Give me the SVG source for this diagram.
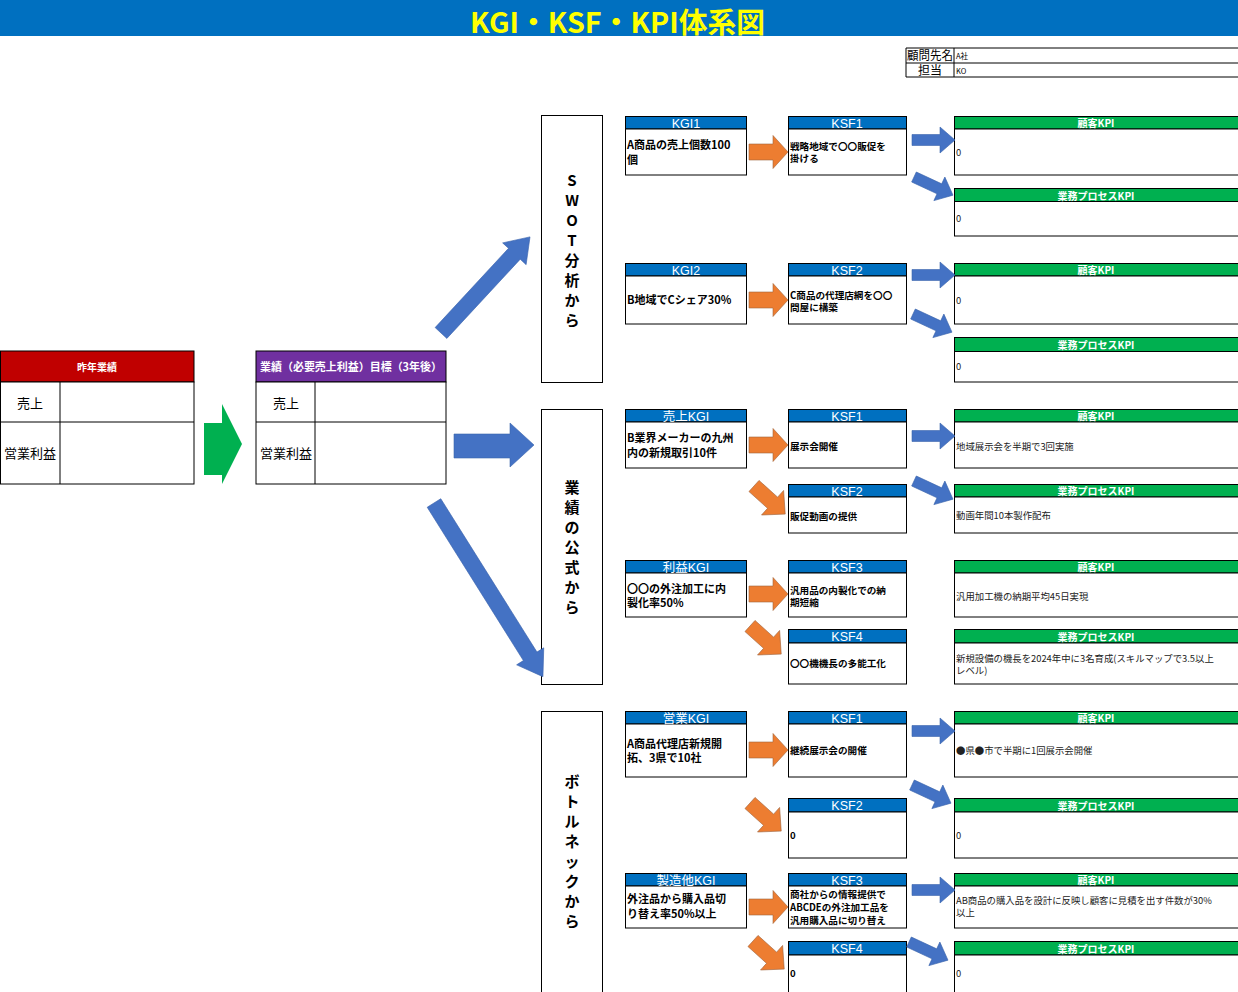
<svg xmlns="http://www.w3.org/2000/svg" width="1238" height="992" viewBox="0 0 1238 992">
<style>
.jp{font-family:"Noto Sans CJK JP","Liberation Sans",sans-serif}
.bd{stroke:#000;stroke-width:1;fill:#fff}
.hb{fill:#0070C0;stroke:#000;stroke-width:1}
.hg{fill:#00B050;stroke:#000;stroke-width:1}
.ht{font-family:"Liberation Sans","Noto Sans CJK JP",sans-serif;font-size:12.5px;fill:#fff;text-anchor:middle}
.kt{font-family:"Noto Sans CJK JP",sans-serif;font-size:10px;font-weight:700;fill:#fff;text-anchor:middle}
.gt{font-family:"Noto Sans CJK JP",sans-serif;font-size:11px;font-weight:700;fill:#000}
.st{font-family:"Noto Sans CJK JP",sans-serif;font-size:9.6px;font-weight:700;fill:#000}
.pt{font-family:"Noto Sans CJK JP",sans-serif;font-size:9.4px;fill:#222}
.vt{font-family:"Noto Sans CJK JP",sans-serif;font-size:15px;font-weight:700;fill:#000;text-anchor:middle}
.or{fill:#ED7D31;stroke:#A0643C;stroke-width:0.6}
.bl{fill:#4472C4;stroke:#3B64AD;stroke-width:0.6}
.ln{stroke:#000;stroke-width:1;fill:none}
</style>
<defs>
<path id="oa" d="M0,-8 H24 V-16.5 L39,0 L24,16.5 V8 H0 Z"/>
<path id="od" d="M0,-7.5 H25 V-16.5 L42,0 L25,16.5 V7.5 H0 Z"/>
<path id="ba" d="M0,-5.5 H28 V-13 L43,0 L28,13 V5.5 H0 Z"/>
</defs>
<rect width="1238" height="992" fill="#fff"/>
<g id="title">
<rect x="0" y="0" width="1238" height="36" fill="#0070C0"/>
<text x="470" y="33" font-family="Noto Sans CJK JP,sans-serif" font-size="28" font-weight="700" fill="#FFFF00" textLength="295" lengthAdjust="spacingAndGlyphs">KGI・KSF・KPI体系図</text>
</g>
<g id="info">
<path class="ln" d="M906,48 H1238 M906,63 H1238 M906,77 H1238 M906,48 V77 M954,48 V77"/>
<text x="930" y="60" class="jp" font-size="12" text-anchor="middle" textLength="46" lengthAdjust="spacingAndGlyphs">顧問先名</text>
<text x="930" y="75" class="jp" font-size="12" text-anchor="middle">担当</text>
<text x="956" y="59" class="jp" font-size="7.5">A社</text>
<text x="956" y="74" class="jp" font-size="7.5">KO</text>
</g>
<g id="last-year">
<rect x="0.5" y="351" width="193.5" height="31" fill="#C00000" stroke="#000"/>
<rect x="0.5" y="382" width="193.5" height="102" class="bd"/>
<path class="ln" d="M0.5,422 H194 M60,382 V484"/>
<text x="97" y="371" class="kt" font-size="11">昨年業績</text>
<text x="30" y="408" class="jp" font-size="13" text-anchor="middle">売上</text>
<text x="30" y="458" class="jp" font-size="13" text-anchor="middle">営業利益</text>
</g>
<g id="target">
<rect x="256" y="351" width="190" height="31" fill="#7030A0" stroke="#000"/>
<rect x="256" y="382" width="190" height="102" class="bd"/>
<path class="ln" d="M256,422 H446 M315,382 V484"/>
<text x="260" y="371" font-family="Noto Sans CJK JP,sans-serif" font-size="11" font-weight="700" fill="#fff" textLength="182" lengthAdjust="spacingAndGlyphs">業績（必要売上利益）目標（3年後）</text>
<text x="286" y="408" class="jp" font-size="13" text-anchor="middle">売上</text>
<text x="286" y="458" class="jp" font-size="13" text-anchor="middle">営業利益</text>
</g>
<g id="cat-swot">
<rect x="541.5" y="115.5" width="61" height="267" class="bd"/>
<text class="vt"><tspan x="572" y="186">S</tspan><tspan x="572" y="206">W</tspan><tspan x="572" y="226">O</tspan><tspan x="572" y="246">T</tspan><tspan x="572" y="266">分</tspan><tspan x="572" y="286">析</tspan><tspan x="572" y="306">か</tspan><tspan x="572" y="326">ら</tspan></text>
</g>
<g id="cat-formula">
<rect x="541.5" y="409.5" width="61" height="275" class="bd"/>
<text class="vt"><tspan x="572" y="493">業</tspan><tspan x="572" y="513">績</tspan><tspan x="572" y="533">の</tspan><tspan x="572" y="553">公</tspan><tspan x="572" y="573">式</tspan><tspan x="572" y="593">か</tspan><tspan x="572" y="613">ら</tspan></text>
</g>
<g id="cat-bottleneck">
<rect x="541.5" y="711.5" width="61" height="290" class="bd"/>
<text class="vt"><tspan x="572" y="787">ボ</tspan><tspan x="572" y="807">ト</tspan><tspan x="572" y="827">ル</tspan><tspan x="572" y="847">ネ</tspan><tspan x="572" y="867">ッ</tspan><tspan x="572" y="887">ク</tspan><tspan x="572" y="907">か</tspan><tspan x="572" y="927">ら</tspan></text>
</g>

<!-- Section 1 -->
<g id="kgi1"><rect x="625.5" y="116.5" width="121" height="12.5" class="hb"/><rect x="625.5" y="129" width="121" height="46" class="bd"/><text x="686" y="127.5" class="ht">KGI1</text><text class="gt"><tspan x="627" y="149">A商品の売上個数100</tspan><tspan x="627" y="164">個</tspan></text></g>
<g id="ksf1-a"><rect x="788.5" y="116.5" width="118" height="12.5" class="hb"/><rect x="788.5" y="129" width="118" height="46" class="bd"/><text x="847" y="127.5" class="ht">KSF1</text><text class="st"><tspan x="790" y="150">戦略地域で〇〇販促を</tspan><tspan x="790" y="162">掛ける</tspan></text></g>
<g id="kpi-c1"><rect x="954.5" y="116.5" width="290" height="12.5" class="hg"/><rect x="954.5" y="129" width="290" height="46" class="bd"/><text x="1096" y="127" class="kt">顧客KPI</text><text x="956" y="156" class="pt">0</text></g>
<g id="kpi-p1"><rect x="954.5" y="188.5" width="290" height="13" class="hg"/><rect x="954.5" y="201.5" width="290" height="34.5" class="bd"/><text x="1096" y="199.5" class="kt">業務プロセスKPI</text><text x="956" y="222" class="pt">0</text></g>

<!-- Section 2 -->
<g id="kgi2"><rect x="625.5" y="263.5" width="121" height="12.5" class="hb"/><rect x="625.5" y="276" width="121" height="48" class="bd"/><text x="686" y="274.5" class="ht">KGI2</text><text x="627" y="304" class="gt">B地域でCシェア30%</text></g>
<g id="ksf2-a"><rect x="788.5" y="263.5" width="118" height="12.5" class="hb"/><rect x="788.5" y="276" width="118" height="48" class="bd"/><text x="847" y="274.5" class="ht">KSF2</text><text class="st"><tspan x="790" y="299">C商品の代理店網を〇〇</tspan><tspan x="790" y="311">問屋に構築</tspan></text></g>
<g id="kpi-c2"><rect x="954.5" y="263.5" width="290" height="12.5" class="hg"/><rect x="954.5" y="276" width="290" height="48" class="bd"/><text x="1096" y="274" class="kt">顧客KPI</text><text x="956" y="304" class="pt">0</text></g>
<g id="kpi-p2"><rect x="954.5" y="337.5" width="290" height="14" class="hg"/><rect x="954.5" y="351.5" width="290" height="30.5" class="bd"/><text x="1096" y="349" class="kt">業務プロセスKPI</text><text x="956" y="370" class="pt">0</text></g>

<!-- Section 3 -->
<g id="kgi-sales"><rect x="625.5" y="409.5" width="121" height="12.5" class="hb"/><rect x="625.5" y="422" width="121" height="46" class="bd"/><text x="686" y="420.5" class="ht">売上KGI</text><text class="gt"><tspan x="627" y="442">B業界メーカーの九州</tspan><tspan x="627" y="457">内の新規取引10件</tspan></text></g>
<g id="ksf1-b"><rect x="788.5" y="409.5" width="118" height="12.5" class="hb"/><rect x="788.5" y="422" width="118" height="46" class="bd"/><text x="847" y="420.5" class="ht">KSF1</text><text x="790" y="450" class="st">展示会開催</text></g>
<g id="kpi-c3"><rect x="954.5" y="409.5" width="290" height="12.5" class="hg"/><rect x="954.5" y="422" width="290" height="46" class="bd"/><text x="1096" y="420" class="kt">顧客KPI</text><text x="956" y="450" class="pt">地域展示会を半期で3回実施</text></g>
<g id="ksf2-b"><rect x="788.5" y="484.5" width="118" height="12.5" class="hb"/><rect x="788.5" y="497" width="118" height="36" class="bd"/><text x="847" y="495.5" class="ht">KSF2</text><text x="790" y="520" class="st">販促動画の提供</text></g>
<g id="kpi-p3"><rect x="954.5" y="484.5" width="290" height="12.5" class="hg"/><rect x="954.5" y="497" width="290" height="36" class="bd"/><text x="1096" y="495" class="kt">業務プロセスKPI</text><text x="956" y="519" class="pt">動画年間10本製作配布</text></g>

<!-- Section 3b -->
<g id="kgi-profit"><rect x="625.5" y="560.5" width="121" height="12.5" class="hb"/><rect x="625.5" y="573" width="121" height="44" class="bd"/><text x="686" y="571.5" class="ht">利益KGI</text><text class="gt"><tspan x="627" y="593">〇〇の外注加工に内</tspan><tspan x="627" y="607">製化率50%</tspan></text></g>
<g id="ksf3-b"><rect x="788.5" y="560.5" width="118" height="12.5" class="hb"/><rect x="788.5" y="573" width="118" height="44" class="bd"/><text x="847" y="571.5" class="ht">KSF3</text><text class="st"><tspan x="790" y="594">汎用品の内製化での納</tspan><tspan x="790" y="606">期短縮</tspan></text></g>
<g id="kpi-c4"><rect x="954.5" y="560.5" width="290" height="12.5" class="hg"/><rect x="954.5" y="573" width="290" height="44" class="bd"/><text x="1096" y="571" class="kt">顧客KPI</text><text x="956" y="600" class="pt">汎用加工機の納期平均45日実現</text></g>
<g id="ksf4-b"><rect x="788.5" y="629.5" width="118" height="13.5" class="hb"/><rect x="788.5" y="643" width="118" height="41" class="bd"/><text x="847" y="641" class="ht">KSF4</text><text x="790" y="667" class="st">〇〇機機長の多能工化</text></g>
<g id="kpi-p4"><rect x="954.5" y="629.5" width="290" height="13.5" class="hg"/><rect x="954.5" y="643" width="290" height="41" class="bd"/><text x="1096" y="641" class="kt">業務プロセスKPI</text><text class="pt"><tspan x="956" y="662">新規設備の機長を2024年中に3名育成(スキルマップで3.5以上</tspan><tspan x="956" y="674">レベル)</tspan></text></g>

<!-- Section 4 -->
<g id="kgi-sales2"><rect x="625.5" y="711.5" width="121" height="12.5" class="hb"/><rect x="625.5" y="724" width="121" height="53" class="bd"/><text x="686" y="722.5" class="ht">営業KGI</text><text class="gt"><tspan x="627" y="748">A商品代理店新規開</tspan><tspan x="627" y="762">拓、3県で10社</tspan></text></g>
<g id="ksf1-c"><rect x="788.5" y="711.5" width="118" height="12.5" class="hb"/><rect x="788.5" y="724" width="118" height="53" class="bd"/><text x="847" y="722.5" class="ht">KSF1</text><text x="790" y="754" class="st">継続展示会の開催</text></g>
<g id="kpi-c5"><rect x="954.5" y="711.5" width="290" height="12.5" class="hg"/><rect x="954.5" y="724" width="290" height="53" class="bd"/><text x="1096" y="722" class="kt">顧客KPI</text><text x="956" y="754" class="pt">●県●市で半期に1回展示会開催</text></g>
<g id="ksf2-c"><rect x="788.5" y="798.5" width="118" height="13.5" class="hb"/><rect x="788.5" y="812" width="118" height="46" class="bd"/><text x="847" y="810" class="ht">KSF2</text><text x="790" y="839" class="st">0</text></g>
<g id="kpi-p5"><rect x="954.5" y="798.5" width="290" height="13.5" class="hg"/><rect x="954.5" y="812" width="290" height="46" class="bd"/><text x="1096" y="810" class="kt">業務プロセスKPI</text><text x="956" y="839" class="pt">0</text></g>

<!-- Section 5 -->
<g id="kgi-mfg"><rect x="625.5" y="873.5" width="121" height="12.5" class="hb"/><rect x="625.5" y="886" width="121" height="42" class="bd"/><text x="686" y="884.5" class="ht">製造他KGI</text><text class="gt"><tspan x="627" y="903">外注品から購入品切</tspan><tspan x="627" y="918">り替え率50%以上</tspan></text></g>
<g id="ksf3-c"><rect x="788.5" y="873.5" width="118" height="12.5" class="hb"/><rect x="788.5" y="886" width="118" height="42" class="bd"/><text x="847" y="884.5" class="ht">KSF3</text><text class="st"><tspan x="790" y="898">商社からの情報提供で</tspan><tspan x="790" y="911">ABCDEの外注加工品を</tspan><tspan x="790" y="924">汎用購入品に切り替え</tspan></text></g>
<g id="kpi-c6"><rect x="954.5" y="873.5" width="290" height="12.5" class="hg"/><rect x="954.5" y="886" width="290" height="42" class="bd"/><text x="1096" y="884" class="kt">顧客KPI</text><text class="pt"><tspan x="956" y="904">AB商品の購入品を設計に反映し顧客に見積を出す件数が30%</tspan><tspan x="956" y="916">以上</tspan></text></g>
<g id="ksf4-c"><rect x="788.5" y="941.5" width="118" height="13.5" class="hb"/><rect x="788.5" y="955" width="118" height="50" class="bd"/><text x="847" y="953" class="ht">KSF4</text><text x="790" y="977" class="st">0</text></g>
<g id="kpi-p6"><rect x="954.5" y="941.5" width="290" height="13.5" class="hg"/><rect x="954.5" y="955" width="290" height="50" class="bd"/><text x="1096" y="953" class="kt">業務プロセスKPI</text><text x="956" y="977" class="pt">0</text></g>

<g id="connectors">
<path d="M204,423 H222 V404 L242,444 L222,484 V475 H204 Z" fill="#00B050"/>
<path class="bl" transform="translate(441,333) rotate(-47.2)" d="M0,-8 H108 V-16 L131,0 L108,16 V8 H0 Z"/>
<path class="bl" d="M454,434 H510 V423 L534,445 L510,467 V458 H454 Z"/>
<path class="bl" transform="translate(434,503) rotate(57.9)" d="M0,-8 H181 V-16 L205,0 L181,16 V8 H0 Z"/>
<use href="#oa" class="or" transform="translate(749,152)"/>
<use href="#oa" class="or" transform="translate(749,300)"/>
<use href="#oa" class="or" transform="translate(749,445)"/>
<use href="#oa" class="or" transform="translate(749,594)"/>
<use href="#oa" class="or" transform="translate(749,750)"/>
<use href="#oa" class="or" transform="translate(749,907)"/>
<use href="#od" class="or" transform="translate(754,486) rotate(42)"/>
<use href="#od" class="or" transform="translate(750,626) rotate(42)"/>
<use href="#od" class="or" transform="translate(750,803) rotate(42)"/>
<use href="#od" class="or" transform="translate(753,941) rotate(42)"/>
<use href="#ba" class="bl" transform="translate(912,140)"/>
<use href="#ba" class="bl" transform="translate(912,275)"/>
<use href="#ba" class="bl" transform="translate(912,436)"/>
<use href="#ba" class="bl" transform="translate(912,731)"/>
<use href="#ba" class="bl" transform="translate(912,890)"/>
<use href="#ba" class="bl" transform="translate(914,177) rotate(25)"/>
<use href="#ba" class="bl" transform="translate(913,314) rotate(25)"/>
<use href="#ba" class="bl" transform="translate(914,481) rotate(25)"/>
<use href="#ba" class="bl" transform="translate(912,785) rotate(25)"/>
<use href="#ba" class="bl" transform="translate(909,942) rotate(25)"/>
</g>
</svg>
